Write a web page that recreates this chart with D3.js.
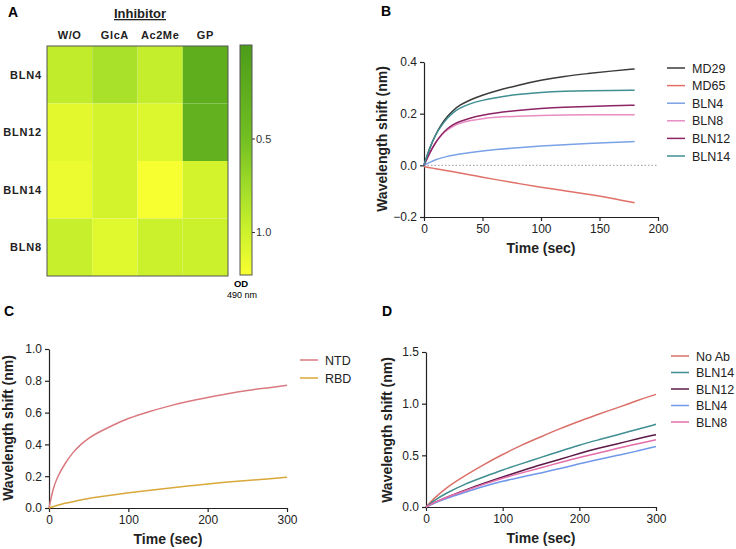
<!DOCTYPE html>
<html>
<head>
<meta charset="utf-8">
<script src="https://cdn.jsdelivr.net/npm/d3@7"></script>
<style>
  body { margin: 0; background: #fff; }
  text { font-family: "Liberation Sans", Arial, sans-serif; }
</style>
</head>
<body>
<svg width="736" height="549"></svg>
<script>
// ---- panel A data (OD 490 nm) ----
const inhibitors = ["W/O", "GlcA", "Ac2Me", "GP"];
const antibodies = ["BLN4", "BLN12", "BLN14", "BLN8"];
const odBLN4 = [0.93, 0.8, 0.95, 0.25];
const odBLN12 = [1.12, 1.03, 1.08, 0.3];
const odBLN14 = [1.16, 1.03, 1.23, 1.03];
const odBLN8 = [0.97, 1.1, 0.99, 0.99];
const odTicks = [0.5, 1.0];

// ---- panel B data ----
const timeB = [0, 5, 10, 15, 20, 25, 30, 40, 50, 60, 80, 100, 120, 140, 160, 180];
const md29 = [0, 0.07, 0.12, 0.16, 0.19, 0.213, 0.232, 0.255, 0.272, 0.286, 0.31, 0.33, 0.345, 0.355, 0.365, 0.373];
const md65 = [-0.005, -0.009, -0.013, -0.017, -0.021, -0.025, -0.029, -0.037, -0.046, -0.054, -0.07, -0.085, -0.098, -0.112, -0.127, -0.145];
const bln4B = [0, 0.012, 0.022, 0.029, 0.035, 0.039, 0.043, 0.05, 0.056, 0.061, 0.068, 0.075, 0.08, 0.085, 0.089, 0.092];
const bln8B = [0, 0.05, 0.09, 0.118, 0.138, 0.152, 0.162, 0.174, 0.181, 0.186, 0.19, 0.193, 0.195, 0.196, 0.196, 0.196];
const bln12B = [0, 0.05, 0.09, 0.12, 0.143, 0.158, 0.169, 0.184, 0.194, 0.202, 0.213, 0.22, 0.225, 0.228, 0.231, 0.233];
const bln14B = [0, 0.07, 0.12, 0.155, 0.183, 0.205, 0.221, 0.24, 0.252, 0.261, 0.275, 0.283, 0.287, 0.289, 0.29, 0.291];
const namesB = ["MD29", "MD65", "BLN4", "BLN8", "BLN12", "BLN14"];
const colorsB = ["#3a3a3a", "#e07068", "#7aa2e6", "#e88cc2", "#8c2466", "#3f8e92"];

// ---- panel C data ----
const timeC = [0, 5, 10, 20, 30, 40, 50, 60, 80, 100, 125, 150, 175, 200, 225, 250, 275, 300];
const ntd = [0, 0.12, 0.19, 0.28, 0.35, 0.4, 0.44, 0.47, 0.52, 0.565, 0.605, 0.64, 0.67, 0.695, 0.72, 0.74, 0.755, 0.772];
const rbd = [0, 0.008, 0.016, 0.03, 0.04, 0.05, 0.06, 0.068, 0.082, 0.095, 0.11, 0.125, 0.138, 0.152, 0.163, 0.173, 0.183, 0.193];
const namesC = ["NTD", "RBD"];
const colorsC = ["#da7a80", "#d8a83a"];

// ---- panel D data ----
const timeD = [0, 10, 25, 50, 75, 100, 125, 150, 175, 200, 225, 250, 275, 300];
const noAb = [0, 0.08, 0.18, 0.3, 0.41, 0.51, 0.6, 0.68, 0.76, 0.83, 0.9, 0.96, 1.03, 1.09];
const bln14D = [0, 0.06, 0.13, 0.22, 0.29, 0.36, 0.42, 0.48, 0.54, 0.6, 0.65, 0.7, 0.75, 0.8];
const bln12D = [0, 0.04, 0.09, 0.16, 0.23, 0.29, 0.35, 0.41, 0.46, 0.52, 0.57, 0.61, 0.66, 0.7];
const bln4D = [0, 0.035, 0.08, 0.14, 0.2, 0.25, 0.29, 0.33, 0.37, 0.42, 0.46, 0.5, 0.54, 0.585];
const bln8D = [0, 0.04, 0.09, 0.155, 0.22, 0.28, 0.33, 0.38, 0.43, 0.48, 0.52, 0.57, 0.61, 0.65];
const namesD = ["No Ab", "BLN14", "BLN12", "BLN4", "BLN8"];
const colorsD = ["#da7068", "#3f8e92", "#5c1a48", "#6f98ea", "#e46eaa"];

const svg = d3.select("svg");

// panel letters
const letters = [["A", 8, 17], ["B", 381, 16], ["C", 4, 316], ["D", 382, 316]];
svg.selectAll("text.letter")
  .data(letters)
  .enter()
  .append("text")
  .attr("class", "letter")
  .attr("x", (d) => d[1])
  .attr("y", (d) => d[2])
  .attr("font-size", 14)
  .attr("font-weight", "bold")
  .text((d) => d[0]);

// ================= Panel A heatmap =================
const odColor = d3
  .scaleLinear()
  .domain([0, 0.5, 0.8, 1.0, 1.23])
  .range(["#4c9c1a", "#72bf22", "#a8e02a", "#cdf22c", "#f8ff30"]);

const heatX = d3.scaleBand().domain(inhibitors).range([47, 228]);
const heatY = d3.scaleBand().domain(antibodies).range([46, 276]);
const rowsA = [odBLN4, odBLN12, odBLN14, odBLN8];
const cells = [];
antibodies.forEach((ab, i) => {
  inhibitors.forEach((inh, j) => {
    cells.push({ ab: ab, inh: inh, v: rowsA[i][j] });
  });
});

const gA = svg.append("g");
gA.selectAll("rect")
  .data(cells)
  .enter()
  .append("rect")
  .attr("x", (d) => heatX(d.inh))
  .attr("y", (d) => heatY(d.ab))
  .attr("width", heatX.bandwidth())
  .attr("height", heatY.bandwidth())
  .attr("fill", (d) => odColor(d.v));

gA.append("rect")
  .attr("x", 47)
  .attr("y", 46)
  .attr("width", 181)
  .attr("height", 230)
  .attr("fill", "none")
  .attr("stroke", "#555")
  .attr("stroke-width", 1);

gA.selectAll("text.col")
  .data(inhibitors)
  .enter()
  .append("text")
  .attr("class", "col")
  .attr("x", (d) => heatX(d) + heatX.bandwidth() / 2)
  .attr("y", 39)
  .attr("text-anchor", "middle")
  .attr("font-size", 11)
  .attr("font-weight", "bold")
  .attr("letter-spacing", 0.6)
  .attr("fill", "#222")
  .text((d) => d);

gA.selectAll("text.row")
  .data(antibodies)
  .enter()
  .append("text")
  .attr("class", "row")
  .attr("x", 42)
  .attr("y", (d) => heatY(d) + heatY.bandwidth() / 2 + 4)
  .attr("text-anchor", "end")
  .attr("font-size", 11)
  .attr("font-weight", "bold")
  .attr("letter-spacing", 0.8)
  .attr("fill", "#222")
  .text((d) => d);

gA.append("text")
  .attr("x", 140)
  .attr("y", 18)
  .attr("text-anchor", "middle")
  .attr("font-size", 13)
  .attr("font-weight", "bold")
  .attr("text-decoration", "underline")
  .attr("fill", "#222")
  .text("Inhibitor");

// colour bar
const barY = d3.scaleLinear().domain([0, 1.23]).range([45, 275]);
const defs = svg.append("defs");
const grad = defs
  .append("linearGradient")
  .attr("id", "odgrad")
  .attr("x1", 0)
  .attr("y1", 0)
  .attr("x2", 0)
  .attr("y2", 1);
grad.selectAll("stop")
  .data(odColor.domain())
  .enter()
  .append("stop")
  .attr("offset", (d) => d / 1.23)
  .attr("stop-color", (d) => odColor(d));

gA.append("rect")
  .attr("x", 240)
  .attr("y", 45)
  .attr("width", 12)
  .attr("height", 230)
  .attr("fill", "url(#odgrad)")
  .attr("stroke", "#555")
  .attr("stroke-width", 1);

const barAxis = d3.axisRight(barY).tickValues(odTicks).tickFormat(d3.format(".1f")).tickSize(3);
const barAxisG = gA.append("g").attr("transform", "translate(252,0)").call(barAxis);
barAxisG.select(".domain").remove();
barAxisG.selectAll("text").attr("font-size", 11).attr("fill", "#333").attr("x", 4);
barAxisG.selectAll("line").attr("stroke", "#333");

gA.append("text")
  .attr("x", 241)
  .attr("y", 287)
  .attr("text-anchor", "middle")
  .attr("font-size", 9.5)
  .attr("font-weight", "bold")
  .text("OD");
gA.append("text")
  .attr("x", 242)
  .attr("y", 298)
  .attr("text-anchor", "middle")
  .attr("font-size", 9)
  .text("490 nm");

// ================= line panels =================
const drawPanel = (opt) => {
  const x = d3.scaleLinear().domain(opt.xDomain).range([opt.left, opt.right]);
  const y = d3.scaleLinear().domain(opt.yDomain).range([opt.bottom, opt.top]);
  const g = svg.append("g");

  const xAxisG = g
    .append("g")
    .attr("transform", `translate(0, ${opt.bottom})`)
    .call(d3.axisBottom(x).tickValues(opt.xTicks).tickSize(4).tickSizeOuter(0));
  const yAxisG = g
    .append("g")
    .attr("transform", `translate(${opt.left}, 0)`)
    .call(d3.axisLeft(y).tickValues(opt.yTicks).tickFormat(d3.format(".1f")).tickSize(4).tickSizeOuter(0));

  [xAxisG, yAxisG].forEach((a) => {
    a.select(".domain").attr("stroke", "#222").attr("stroke-width", 1.2);
    a.selectAll("line").attr("stroke", "#222").attr("stroke-width", 1.2);
    a.selectAll("text").attr("font-size", 12).attr("fill", "#222");
  });

  if (opt.zeroLine) {
    g.append("line")
      .attr("x1", x(opt.xDomain[0]))
      .attr("x2", x(opt.xDomain[1]))
      .attr("y1", y(0))
      .attr("y2", y(0))
      .attr("stroke", "#999")
      .attr("stroke-dasharray", "1.5,2");
  }

  const line = d3
    .line()
    .x((d) => x(d[0]))
    .y((d) => y(d[1]))
    .curve(d3.curveBasis);

  opt.series.forEach((s, i) => {
    g.append("path")
      .datum(opt.time.map((t, k) => [t, s[k]]))
      .attr("fill", "none")
      .attr("stroke", opt.colors[i])
      .attr("stroke-width", 1.5)
      .attr("d", line);
  });

  g.append("text")
    .attr("x", (opt.left + opt.right) / 2)
    .attr("y", opt.bottom + 36)
    .attr("text-anchor", "middle")
    .attr("font-size", 14)
    .attr("font-weight", "bold")
    .attr("fill", "#222")
    .text("Time (sec)");

  g.append("text")
    .attr("transform", `translate(${opt.yLabelX}, ${opt.yLabelY}) rotate(-90)`)
    .attr("text-anchor", "middle")
    .attr("font-size", 14)
    .attr("font-weight", "bold")
    .attr("fill", "#222")
    .text("Wavelength shift (nm)");

  const lg = g.append("g");
  opt.names.forEach((n, i) => {
    const yy = opt.legendY + i * opt.legendStep;
    lg.append("line")
      .attr("x1", opt.legendX)
      .attr("x2", opt.legendX + 18)
      .attr("y1", yy)
      .attr("y2", yy)
      .attr("stroke", opt.colors[i])
      .attr("stroke-width", 1.5);
    lg.append("text")
      .attr("x", opt.legendX + 25)
      .attr("y", yy + 4.5)
      .attr("font-size", 12.5)
      .attr("fill", "#222")
      .text(n);
  });
};

drawPanel({
  xDomain: [0, 200], yDomain: [-0.2, 0.4],
  xTicks: [0, 50, 100, 150, 200], yTicks: [-0.2, 0, 0.2, 0.4],
  left: 424, right: 658, top: 62, bottom: 217,
  time: timeB, series: [md29, md65, bln4B, bln8B, bln12B, bln14B],
  names: namesB, colors: colorsB, zeroLine: true,
  yLabelX: 387, yLabelY: 139,
  legendX: 667, legendY: 68, legendStep: 17.6
});

drawPanel({
  xDomain: [0, 300], yDomain: [0, 1.0],
  xTicks: [0, 100, 200, 300], yTicks: [0, 0.2, 0.4, 0.6, 0.8, 1.0],
  left: 49, right: 287, top: 349, bottom: 508,
  time: timeC, series: [ntd, rbd],
  names: namesC, colors: colorsC, zeroLine: false,
  yLabelX: 13, yLabelY: 428,
  legendX: 300, legendY: 360, legendStep: 18
});

drawPanel({
  xDomain: [0, 300], yDomain: [0, 1.5],
  xTicks: [0, 100, 200, 300], yTicks: [0, 0.5, 1.0, 1.5],
  left: 426, right: 656, top: 352, bottom: 507,
  time: timeD, series: [noAb, bln14D, bln12D, bln4D, bln8D],
  names: namesD, colors: colorsD, zeroLine: false,
  yLabelX: 392, yLabelY: 430,
  legendX: 671, legendY: 356, legendStep: 16.5
});
</script>
</body>
</html>
